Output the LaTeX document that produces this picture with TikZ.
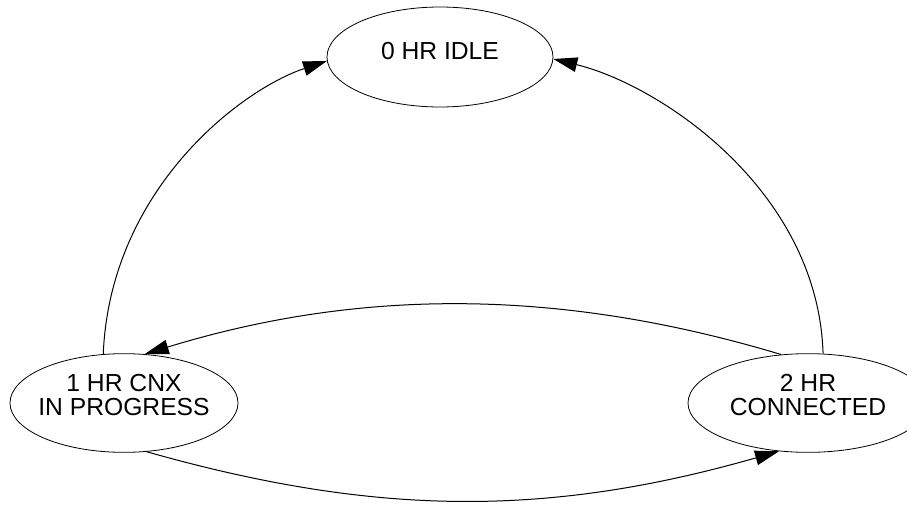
\documentclass[tikz,border=0pt]{standalone}
\usepackage{fontspec}
\setmainfont{Liberation Sans}
\usetikzlibrary{shapes.geometric,arrows.meta}
\tikzset{
  state/.style={ellipse, draw=black, line width=0.6pt, inner sep=0pt, minimum height=74pt},
  statetxt/.style={font=\fontsize{18.5}{18}\selectfont, align=center, yshift=#1},
  statetxt/.default=6pt,
  trans/.style={-{Triangle[length=18pt,width=11pt]}, line width=0.75pt},
}

\begin{document}
\begin{tikzpicture}[x=0.75pt,y=-0.75pt]
  \useasboundingbox (0,0) rectangle (907,504);
  % states
  \node[state, minimum width=169.5pt, minimum height=75pt,
    label={[statetxt=4.5pt]center:0 HR IDLE}] (idle) at (440,57) {};
  \node[state, minimum width=171pt,
    label={[statetxt]center:1 HR CNX\\IN PROGRESS}] (cnx) at (124,403) {};
  \node[state, minimum width=180pt,
    label={[statetxt]center:2 HR\\CONNECTED}] (conn) at (808,403) {};
  % transitions
  \draw[trans] (cnx.113) .. controls (110,190) and (240,90) .. (idle.182);
  \draw[trans] (conn.73) .. controls (818,190) and (660,85) .. (idle.359);
  \draw[trans] (conn.119) .. controls (560,288) and (360,288) .. (cnx.67);
  \draw[trans] (cnx.295) .. controls (377,517) and (549,517) .. (conn.239);
\end{tikzpicture}
\end{document}
